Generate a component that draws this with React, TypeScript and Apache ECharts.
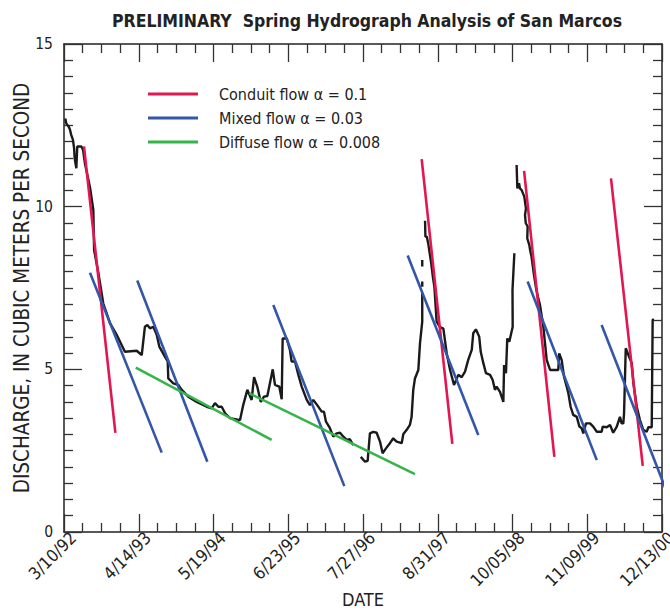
import React, { useEffect, useRef } from "react";
import * as echarts from "echarts";

// x values are days since 3/10/92
const dateLabels = ["3/10/92", "4/14/93", "5/19/94", "6/23/95", "7/27/96", "8/31/97", "10/05/98", "11/09/99", "12/13/00"];
const yTickLabels = ["0", "5", "10", "15"];

const seriesNames = ["Conduit flow \u03b1 = 0.1", "Mixed flow \u03b1 = 0.03", "Diffuse flow \u03b1 = 0.008"];

// Observed discharge (null = gap in record)
const hydroDays: (number | null)[] = [
  7, 12, 25, 31, 39, 48, 54, 57, 66, 71, 93, 102, 112, 139, 157, 161, 184, 210, 246, 282, 326, 389, 416, 433, 446, 460, 478, 496, 510, 540, 555, 558, 585, 612, 630, 665, 710, 764, 790, 808, 826, 844, 862, 888, 942, 959, 981, 1004, 1017, 1034, 1053, 1070, 1088, 1102, 1117, 1129, 1152, 1165, 1170, 1192, 1209, 1218, 1236, 1254, 1272, 1299, 1316, 1334, 1355, 1379, 1391, 1402, 1423, 1441, 1459, 1477, 1495, 1513, 1530, 1548,
  null,
  1588, 1611, 1625, 1637, 1655, 1673, 1691, 1705, 1723, 1744, 1762, 1780, 1807, 1816, 1834, 1851, 1860, 1869, 1878, 1896, 1905, 1917, 1917,
  null,
  1917, 1917,
  null,
  1917, 1917,
  null,
  1932, 1934, 1941, 1949, 1964, 1975, 1982, 1994, 2012, 2030, 2048, 2066, 2087, 2110, 2128, 2146, 2163, 2182, 2190, 2204, 2222, 2230, 2244, 2258, 2280, 2294, 2306, 2315, 2333, 2351, 2355, 2365, 2372, 2383, 2401, 2400, 2410,
  null,
  2422, 2426, 2435, 2440, 2449, 2463, 2472, 2467, 2471, 2481, 2479, 2490, 2494, 2502, 2515, 2526, 2536, 2547, 2565, 2583, 2601, 2645, 2650, 2663, 2676, 2690, 2699, 2711, 2725, 2744, 2758, 2770, 2779, 2793, 2815, 2832, 2851, 2877, 2883, 2904, 2922, 2939, 2958, 2975, 2984, 2993, 2997, 3006, 3020, 3038, 3047, 3065, 3082, 3100, 3118, 3127, 3145, 3150, 3157,
];
const hydroQ: (number | null)[] = [
  12.71, 12.56, 12.46, 12.39, 12.2, 12.05, 11.8, 11.49, 11.18, 11.85, 11.85, 11.74, 11.33, 10.6, 9.9, 8.67, 7.96, 7.03, 6.42, 6.06, 5.54, 5.57, 5.44, 6.31, 6.36, 6.26, 6.31, 6.06, 5.7, 5.39, 5.24, 4.72, 4.57, 4.52, 4.37, 4.16, 4.0, 3.85, 3.8, 3.96, 3.85, 3.85, 3.65, 3.5, 3.44, 3.9, 4.37, 4.06, 4.76, 4.47, 4.0, 4.16, 4.18, 4.57, 5.0, 4.52, 4.47, 4.08, 5.95, 5.95, 5.6, 5.24, 5.24, 4.83, 4.47, 4.06, 3.9, 4.06, 3.9, 3.7, 3.7, 3.39, 3.19, 2.93, 3.03, 3.05, 2.93, 2.83, 2.85, 2.67,
  null,
  2.31, 2.16, 2.19, 3.03, 3.08, 3.05, 2.78, 2.42, 2.57, 2.73, 2.88, 2.78, 2.73, 3.01, 3.14, 3.29, 3.54, 4.37, 4.72, 4.98, 5.8, 6.47, 7.35,
  null,
  7.54, 7.7,
  null,
  8.16, 8.36,
  null,
  9.57, 9.08, 9.08, 8.87, 8.3, 7.8, 7.54, 6.47, 6.3, 6.25, 5.49, 4.98, 4.52, 4.83, 4.76, 4.93, 5.29, 5.6, 6.11, 6.23, 6.0, 5.54, 5.19, 4.88, 4.83, 4.67, 4.37, 4.47, 4.31, 4.0, 5.13, 4.88, 5.95, 5.85, 6.31, 7.44, 8.57,
  null,
  11.28, 10.56, 10.72, 10.56, 10.51, 10.31, 9.95, 9.74, 9.49, 9.39, 9.03, 8.82, 8.67, 8.46, 7.9, 7.5, 7.23, 6.98, 6.31, 5.29, 4.98, 4.98, 5.49, 5.29, 4.77, 4.47, 4.26, 3.85, 3.6, 3.54, 3.24, 3.19, 3.03, 3.34, 3.34, 3.24, 3.08, 3.08, 3.24, 3.22, 3.29, 3.05, 3.24, 3.54, 3.34, 3.34, 3.65, 5.65, 5.44, 5.19, 4.57, 3.85, 3.44, 3.14, 3.08, 3.22, 3.22, 6.52, 6.54,
];

// Recession segments: [startDay, startQ, endDay, endQ]
const conduitLines: number[][] = [
  [107, 11.85, 275, 3.05],
  [1914, 11.46, 2078, 2.71],
  [2462, 11.1, 2624, 2.31],
  [2927, 10.87, 3097, 2.03],
];
const mixedLines: number[][] = [
  [139, 7.97, 523, 2.44],
  [392, 7.73, 767, 2.16],
  [1120, 6.98, 1500, 1.41],
  [1839, 8.5, 2217, 2.98],
  [2481, 7.7, 2851, 2.21],
  [2877, 6.36, 3243, 0.98],
];
const diffuseLines: number[][] = [
  [384, 5.05, 1111, 2.83],
  [992, 4.26, 1878, 1.78],
];

const colors = ["#e3174f", "#3456a8", "#35b44a"];
const FONT = '"Liberation Sans Narrow", "DejaVu Sans Condensed", "Roboto Condensed", sans-serif';

export default function App() {
  const ref = useRef<HTMLDivElement>(null);
  useEffect(() => {
    if (!ref.current) return;
    const chart = echarts.init(ref.current, null, { renderer: "svg" });

    const hydroData = hydroDays.map((d, i) => (d === null || hydroQ[i] === null ? "-" : [d, hydroQ[i]]));

    const segSeries: any[] = [];
    const groups = [conduitLines, mixedLines, diffuseLines];
    groups.forEach((g, gi) => {
      g.forEach((s) => {
        segSeries.push({
          name: seriesNames[gi],
          type: "line",
          data: [[s[0], s[1]], [s[2], s[3]]],
          showSymbol: false,
          symbol: "none",
          clip: false,
          lineStyle: { color: colors[gi], width: 2.6 },
          itemStyle: { color: colors[gi] },
          z: 3,
        });
      });
    });

    const tickCommon = { inside: true, length: 18, lineStyle: { color: "#333", width: 1.3 } };
    const minorCommon = { show: true, length: 9, lineStyle: { color: "#333", width: 1.3 } };
    const axisLine = { show: true, onZero: false, lineStyle: { color: "#222", width: 1.5 } };

    chart.setOption({
      animation: false,
      title: {
        text: "PRELIMINARY  Spring Hydrograph Analysis of San Marcos",
        left: 362,
        textAlign: "center",
        top: 7,
        textStyle: { fontFamily: FONT, fontWeight: "bold", fontSize: 17.5, color: "#222" },
      },
      legend: {
        data: seriesNames,
        orient: "vertical",
        left: 148,
        top: 82,
        padding: 0,
        icon: "rect",
        itemWidth: 50,
        itemHeight: 3,
        itemGap: 0,
        textStyle: { fontFamily: FONT, fontSize: 16, color: "#222", lineHeight: 24, padding: [0, 0, 0, 16] },
        selectedMode: false,
      },
      grid: { left: 64, right: 8, top: 44, bottom: 81, outerBoundsMode: "none", containLabel: false },
      xAxis: [
        {
          type: "value",
          min: 0,
          max: 3200,
          interval: 400,
          position: "bottom",
          name: "DATE",
          nameLocation: "middle",
          nameGap: 58,
          nameMoveOverlap: false,
          nameTextStyle: { fontFamily: FONT, fontSize: 18, color: "#222" },
          axisLine,
          axisTick: tickCommon,
          minorTick: { ...minorCommon, splitNumber: 4 },
          splitLine: { show: false },
          axisLabel: {
            rotate: 45,
            margin: 12,
            fontFamily: FONT,
            fontSize: 17,
            color: "#222",
            padding: [0, -13, 0, 0],
            formatter: (v: number) => dateLabels[Math.round(v / 400)] ?? "",
          },
        },
        {
          type: "value",
          min: 0,
          max: 3200,
          interval: 400,
          position: "top",
          axisLine,
          axisTick: tickCommon,
          minorTick: { ...minorCommon, splitNumber: 4 },
          splitLine: { show: false },
          axisLabel: { show: false },
        },
      ],
      yAxis: [
        {
          type: "value",
          min: 0,
          max: 15,
          interval: 5,
          position: "left",
          name: "DISCHARGE, IN CUBIC METERS PER SECOND",
          nameLocation: "middle",
          nameGap: 32,
          nameMoveOverlap: false,
          nameTextStyle: { fontFamily: FONT, fontSize: 20.5, color: "#222" },
          axisLine,
          axisTick: tickCommon,
          minorTick: { ...minorCommon, splitNumber: 10 },
          splitLine: { show: false },
          axisLabel: {
            margin: 11,
            fontFamily: FONT,
            fontSize: 15.5,
            color: "#222",
            formatter: (v: number) => yTickLabels[Math.round(v / 5)] ?? "",
          },
        },
        {
          type: "value",
          min: 0,
          max: 15,
          interval: 5,
          position: "right",
          axisLine,
          axisTick: tickCommon,
          minorTick: { ...minorCommon, splitNumber: 10 },
          splitLine: { show: false },
          axisLabel: { show: false },
        },
      ],
      series: [
        {
          name: "Discharge",
          type: "line",
          data: hydroData,
          showSymbol: false,
          symbol: "none",
          connectNulls: false,
          lineStyle: { color: "#1a1a1a", width: 2.4 },
          z: 2,
        },
        ...segSeries,
      ],
    });
    return () => chart.dispose();
  }, []);
  return <div ref={ref} style={{ position: "absolute", left: 0, top: 0, width: 670, height: 613 }} />;
}
